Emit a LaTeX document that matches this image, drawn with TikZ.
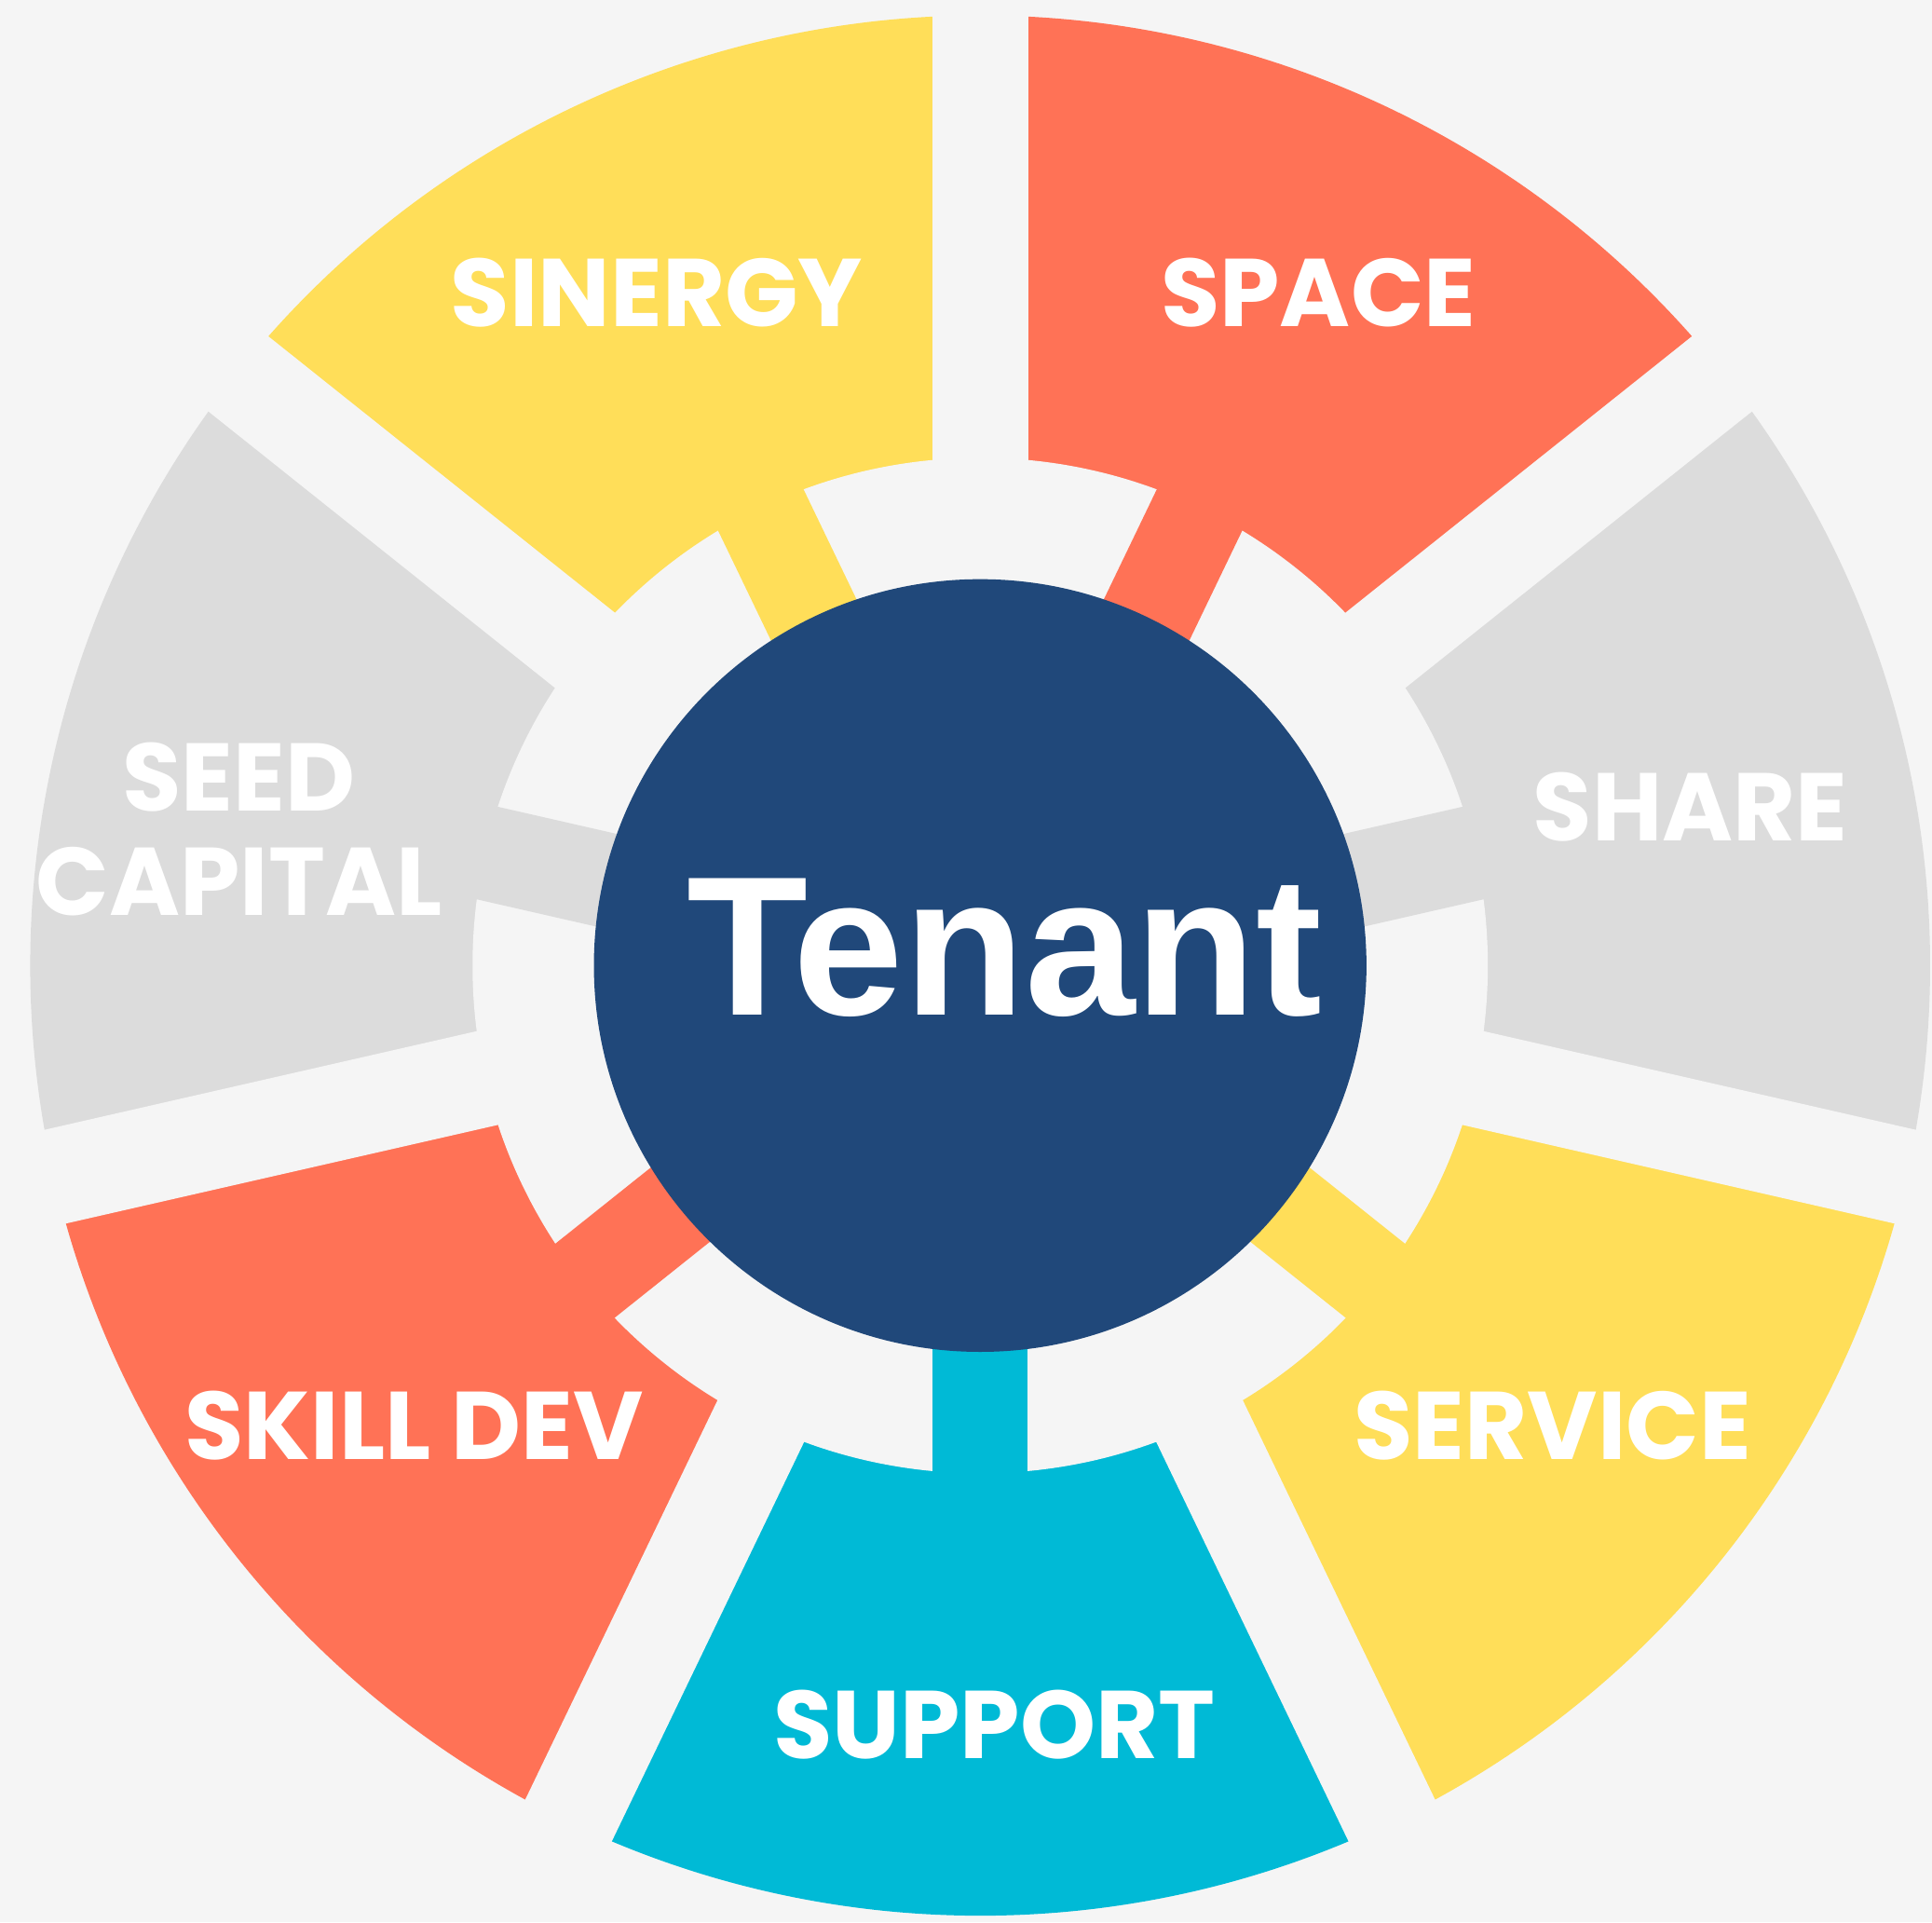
\documentclass[tikz,border=0pt]{standalone}
\usepackage{fontspec}
\setmainfont{Poppins}
\newfontfamily\tenantfont{Liberation Sans}
\definecolor{bg}{HTML}{F5F5F5}
\definecolor{segyellow}{HTML}{FFDE59}
\definecolor{segorange}{HTML}{FF7256}
\definecolor{seggray}{HTML}{DCDCDC}
\definecolor{segcyan}{HTML}{00BAD6}
\definecolor{hubblue}{HTML}{20487A}
\pgfdeclarelayer{back}
\pgfsetlayers{back,main}
\begin{document}
\begin{tikzpicture}[x=1pt,y=1pt,
  lbl/.style={text=white, font=\fontsize{78}{85}\selectfont\bfseries, anchor=base, inner sep=0pt},
  stembar/.style={line width=77pt},
  hubnode/.style={circle, fill=hubblue, minimum size=627pt, inner sep=0pt}]
\useasboundingbox (-795.5,-776.5) rectangle (772.5,783.5);
\node[hubnode] (hub) at (0,0) {};
\node[text=white, font=\tenantfont\fontsize{161}{166}\selectfont\bfseries, anchor=base, inner sep=0pt] (tenant) at (20,-40) {Tenant};
\begin{pgfonlayer}{back}
\clip (-795.5,-776.5) rectangle (772.5,783.5);
\fill[bg] (-795.5,-776.5) rectangle (772.5,783.5);
\foreach \c/\col in {64.2857/segorange, 12.8571/seggray, -38.5714/segyellow, -90/segcyan, -141.4286/segorange, 167.1429/seggray, 115.7143/segyellow}{
  \fill[\col] (0,0) -- (\c-26:771) arc[start angle=\c-26, end angle=\c+26, radius=771pt] -- cycle;
}
\fill[bg] (0,0) circle[radius=412pt];
\foreach \c/\col/\n in {64.2857/segorange/space, 12.8571/seggray/share, -38.5714/segyellow/service, -90/segcyan/support, -141.4286/segorange/skill, 167.1429/seggray/seed, 115.7143/segyellow/sinergy}{
  \coordinate (stem-\n) at (\c:430);
  \draw[stembar, \col] (hub.center) -- (stem-\n);
}
\foreach \g in {90, 38.5714, -12.8571, -64.2857, -115.7143, -167.1429, 141.4286}{
  \fill[bg, rotate=\g] (300,-39) rectangle (790,39);
}
\end{pgfonlayer}
\node[lbl] (sinergy) at (-262.5,518.5) {SINERGY};
\node[lbl] (space) at (274.5,518.5) {SPACE};
\node[lbl] (share) at (576.5,101.5) {SHARE};
\node[lbl] (seed) at (-601.5,125.5) {SEED};
\node[lbl] (capital) at (-601.5,40.5) {CAPITAL};
\node[lbl] (skill) at (-459.5,-400.5) {SKILL DEV};
\node[lbl] (service) at (464.5,-400.5) {SERVICE};
\node[lbl] (support) at (11.5,-643.5) {SUPPORT};
\end{tikzpicture}
\end{document}
